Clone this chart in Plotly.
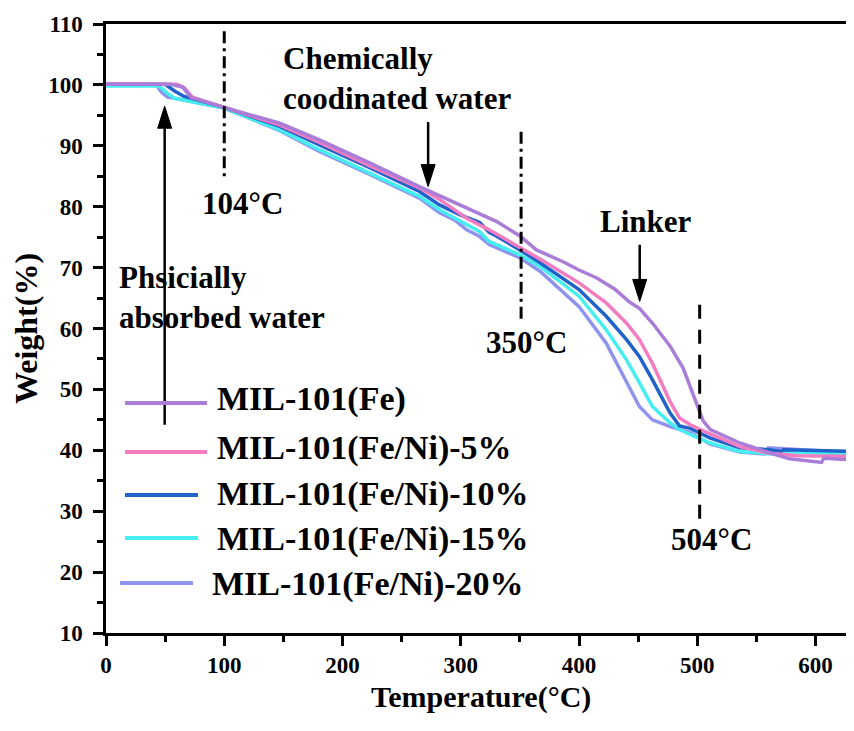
import plotly.graph_objects as go

# ---------------- data ----------------
SERIES_NAMES = ["MIL-101(Fe)", "MIL-101(Fe/Ni)-5%", "MIL-101(Fe/Ni)-10%",
                "MIL-101(Fe/Ni)-15%", "MIL-101(Fe/Ni)-20%"]
COLORS = ["#a97dd8", "#f47cc0", "#1f62c9", "#45eef0", "#8f93ee"]

T_FE = [0, 55, 65, 72, 100, 147, 180, 223, 265, 300, 316, 330, 350, 364, 386, 400,
        415, 430, 443, 451, 462, 477, 488, 494, 500, 505, 511, 536, 561, 578, 605, 607, 632]
W_FE = [100.1, 100.1, 99.6, 97.9, 96.3, 93.7, 91.0, 87.2, 83.3, 80.2, 78.7, 77.6, 75.2,
        72.9, 71.0, 69.6, 68.3, 66.5, 64.3, 63.3, 60.9, 57.1, 53.5, 50.5, 47.5, 44.8, 43.4,
        41.2, 39.6, 38.6, 38.0, 38.7, 38.4]

T_5 = [0, 60, 66, 73, 100, 147, 180, 223, 265, 282, 305, 324, 350, 367, 400, 423, 440,
       451, 462, 477, 485, 494, 505, 536, 561, 585, 632]
W_5 = [100.1, 100.1, 99.6, 98.0, 96.3, 93.4, 90.6, 86.7, 83.1, 81.2, 78.1, 76.2, 73.3,
       71.4, 67.5, 64.2, 60.9, 58.2, 54.3, 48.0, 45.3, 44.2, 43.2, 40.6, 39.5, 39.1, 39.0]

T_10 = [0, 50, 58, 66, 100, 147, 180, 223, 265, 282, 299, 316, 324, 330, 350, 367, 400,
        423, 440, 451, 462, 477, 485, 494, 511, 536, 561, 571, 573, 632]
W_10 = [100.1, 100.1, 99.0, 98.1, 96.3, 93.2, 90.2, 86.4, 82.5, 80.3, 78.7, 77.4, 75.8,
        75.2, 72.9, 70.8, 66.4, 62.0, 58.2, 55.4, 51.6, 46.1, 44.0, 43.6, 42.0, 40.4, 40.1,
        39.8, 40.1, 39.8]

T_15 = [0, 45, 52, 58, 100, 147, 180, 223, 265, 282, 305, 316, 324, 350, 367, 400, 423,
        440, 451, 462, 477, 485, 494, 511, 536, 561, 570, 572, 632]
W_15 = [99.8, 99.8, 98.6, 97.8, 96.2, 92.6, 89.4, 85.5, 81.7, 79.5, 77.0, 75.9, 74.3,
        72.1, 70.2, 65.3, 59.8, 54.9, 51.1, 47.2, 44.5, 43.4, 42.6, 41.2, 39.8, 39.5, 39.3,
        39.8, 39.3]

T_20 = [0, 42, 47, 52, 58, 100, 147, 180, 223, 265, 282, 295, 305, 316, 324, 350, 367,
        400, 423, 440, 451, 462, 477, 494, 511, 536, 557, 560, 578, 632]
W_20 = [100.1, 100.1, 98.8, 98.0, 97.8, 96.2, 92.5, 89.1, 85.3, 81.4, 79.0, 77.8, 76.2,
        75.1, 73.8, 71.6, 69.4, 63.6, 57.6, 51.1, 47.2, 45.0, 43.9, 42.9, 41.0, 39.7, 39.4,
        40.4, 40.2, 39.6]

TEMPS = [T_FE, T_5, T_10, T_15, T_20]
WEIGHTS = [W_FE, W_5, W_10, W_15, W_20]

# reference (vertical) lines: temperature, weight span, label text, label position
VLINE_T = [100, 351, 502]
VLINE_Y0 = [108.8, 92.3, 63.9]
VLINE_Y1 = [84.8, 61.5, 28.6]
VLINE_DASH = ["12px,5px,3px,5px", "12px,5px,3px,5px", "14px,11px"]
VLINE_LABELS = ["104°C", "350°C", "504°C"]
VLABEL_X = [115.6, 355.6, 512]
VLABEL_Y = [80.5, 57.7, 25.3]

# stage annotations and arrows
STAGE_TEXT = ["Chemically<br>coodinated water", "Phsicially<br>absorbed water", "Linker"]
STAGE_X = [148, 8.9, 456.4]
STAGE_Y = [101.0, 65.1, 77.5]
STAGE_XANCHOR = ["left", "left", "center"]
ARROW_X = [272.4, 49.6, 451.3]
ARROW_TAIL = [93.9, 44.2, 73.75]
ARROW_TIP = [83.3, 96.5, 64.45]

X_TITLE = "Temperature(°C)"
Y_TITLE = "Weight(%)"

X_RANGE = [0, 632.5]
Y_RANGE = [10, 110]

# ---------------- layout geometry ----------------
# the default HTML page has an 8px body margin; size the figure so it fills the window
PAGE_OFF = 8
W_FIG, H_FIG = 854 - PAGE_OFF, 731 - PAGE_OFF
ML, MR, MT, MB = 106 - PAGE_OFF, 0, 24 - PAGE_OFF, 98
PW = W_FIG - ML - MR
PH = H_FIG - MT - MB
PX_PER_X = PW / (X_RANGE[1] - X_RANGE[0])
PX_PER_Y = PH / (Y_RANGE[1] - Y_RANGE[0])

FONT = "Liberation Serif"

fig = go.Figure()

for i in [4, 3, 2, 1, 0]:
    fig.add_trace(go.Scatter(
        x=TEMPS[i], y=WEIGHTS[i], mode="lines", name=SERIES_NAMES[i],
        line=dict(color=COLORS[i], width=3.5), showlegend=False))

shapes = []
annotations = []

# vertical marker lines + labels
for t, y0, y1, dash, lab, lx, ly in zip(VLINE_T, VLINE_Y0, VLINE_Y1, VLINE_DASH,
                                        VLINE_LABELS, VLABEL_X, VLABEL_Y):
    shapes.append(dict(type="line", xref="x", yref="y", x0=t, x1=t, y0=y0, y1=y1,
                       line=dict(color="black", width=3, dash=dash)))
    annotations.append(dict(x=lx, y=ly, xref="x", yref="y", text=lab, showarrow=False,
                            xanchor="center", yanchor="middle",
                            font=dict(family=FONT, size=31, color="black", weight="bold")))

# stage texts
for txt, sx, sy, xa in zip(STAGE_TEXT, STAGE_X, STAGE_Y, STAGE_XANCHOR):
    annotations.append(dict(x=sx, y=sy, xref="x", yref="y", text=txt, showarrow=False,
                            xanchor=xa, yanchor="middle", align="left",
                            font=dict(family=FONT, size=31, color="black", weight="bold")))

# arrows (shaft + narrow filled head)
HEAD_LEN_PX, HEAD_HALF_PX = 22, 7
for ax, tail, tip in zip(ARROW_X, ARROW_TAIL, ARROW_TIP):
    sgn = 1 if tip > tail else -1
    head_len = HEAD_LEN_PX / PX_PER_Y
    half = HEAD_HALF_PX / PX_PER_X
    base = tip - sgn * head_len
    shapes.append(dict(type="line", xref="x", yref="y", x0=ax, x1=ax, y0=tail, y1=base,
                       line=dict(color="black", width=2.5)))
    shapes.append(dict(type="path", xref="x", yref="y",
                       path=f"M{ax - half},{base} L{ax},{tip} L{ax + half},{base} Z",
                       fillcolor="black", line=dict(color="black", width=1)))


# manual legend (long line samples like the reference); positions in page pixels
def pxx(px):
    return (px - PAGE_OFF - ML) / PW


def pxy(py):
    return (MT + PH - (py - PAGE_OFF)) / PH


LEG_LINE_Y = [403, 452, 495, 538, 583]
LEG_TEXT_Y = [399, 448, 494, 539, 584]
LEG_X0 = [125, 125, 125, 125, 120]
LEG_X1 = [207, 207, 198, 198, 193]
LEG_TX = [215, 215, 215, 215, 210]
for i in range(5):
    shapes.append(dict(type="line", xref="paper", yref="paper",
                       x0=pxx(LEG_X0[i]), x1=pxx(LEG_X1[i]),
                       y0=pxy(LEG_LINE_Y[i]), y1=pxy(LEG_LINE_Y[i]),
                       line=dict(color=COLORS[i], width=4)))
    annotations.append(dict(x=pxx(LEG_TX[i]), y=pxy(LEG_TEXT_Y[i]), xref="paper", yref="paper",
                            text=SERIES_NAMES[i], showarrow=False, xanchor="left",
                            yanchor="middle",
                            font=dict(family=FONT, size=34, color="black", weight="bold")))

# x-axis title placed just under the tick labels, as in the reference
annotations.append(dict(x=pxx(481), y=pxy(697), xref="paper", yref="paper", text=X_TITLE,
                        showarrow=False, xanchor="center", yanchor="middle",
                        font=dict(family=FONT, size=30, color="black", weight="bold")))

axis_common = dict(showline=True, linecolor="black", linewidth=2.5, showgrid=False,
                   zeroline=False, ticks="outside", ticklen=10, tickwidth=2.5,
                   tickcolor="black",
                   tickfont=dict(family=FONT, size=23, color="black", weight="bold"))

fig.update_layout(
    width=W_FIG, height=H_FIG,
    margin=dict(l=ML, r=MR, t=MT, b=MB),
    plot_bgcolor="white", paper_bgcolor="white",
    shapes=shapes, annotations=annotations,
    xaxis=dict(**axis_common, range=X_RANGE, dtick=100, tick0=0, mirror=True,
               ticklabelstandoff=0,
               minor=dict(ticks="outside", ticklen=6, tickwidth=2.5, tickcolor="black",
                          dtick=50, showgrid=False)),
    yaxis=dict(**axis_common, range=Y_RANGE, dtick=10, tick0=10,
               ticklabelstandoff=6,
               minor=dict(ticks="outside", ticklen=6, tickwidth=2.5, tickcolor="black",
                          dtick=5, showgrid=False),
               title=dict(text=Y_TITLE, standoff=6,
                          font=dict(family=FONT, size=32, color="black", weight="bold"))),
)

fig.write_html("out.html")
